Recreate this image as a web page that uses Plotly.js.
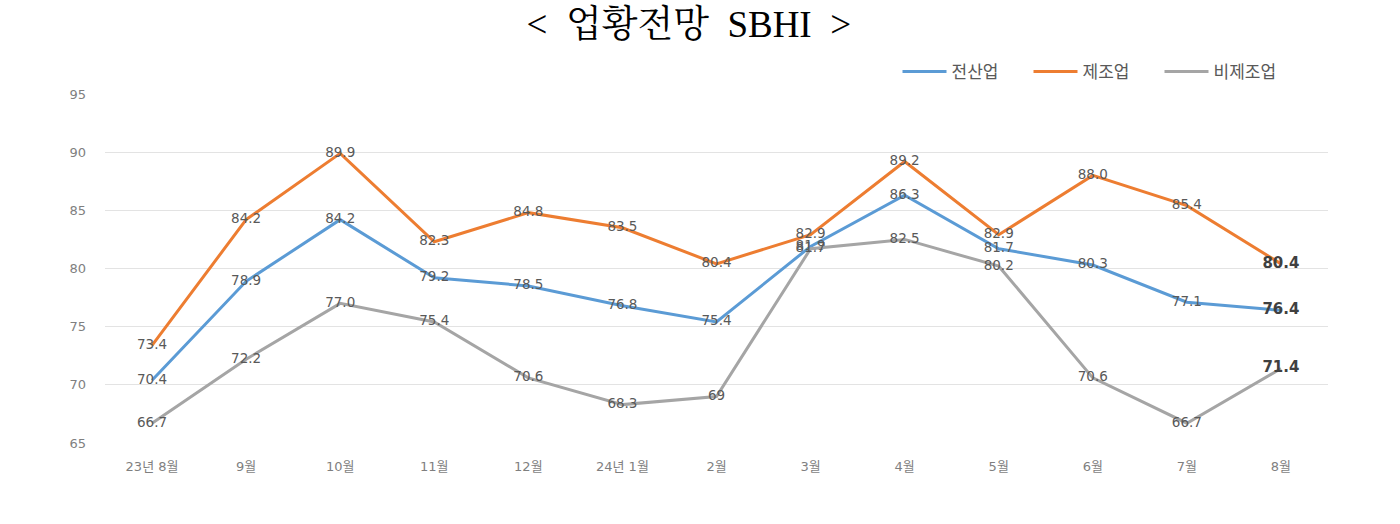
<!DOCTYPE html>
<html>
<head>
<meta charset="utf-8">
<script src="https://cdn.plot.ly/plotly-3.0.1.min.js"></script>
<style>html,body{margin:0;padding:0;background:#fff;}#chart{width:1400px;height:524px;}</style>
</head>
<body>
<div id="chart"></div>
<script>
const categories = ["23년 8월","9월","10월","11월","12월","24년 1월","2월","3월","4월","5월","6월","7월","8월"];
const allIndustry = [70.4, 78.9, 84.2, 79.2, 78.5, 76.8, 75.4, 81.9, 86.3, 81.7, 80.3, 77.1, 76.4];
const manufacturing = [73.4, 84.2, 89.9, 82.3, 84.8, 83.5, 80.4, 82.9, 89.2, 82.9, 88.0, 85.4, 80.4];
const nonManufacturing = [66.7, 72.2, 77.0, 75.4, 70.6, 68.3, 69, 81.7, 82.5, 80.2, 70.6, 66.7, 71.4];
const seriesNames = ["전산업", "제조업", "비제조업"];
const yTicks = [65, 70, 75, 80, 85, 90, 95];

function labels(vals) {
  return vals.map((v, i) => {
    const s = v === 69 ? String(v) : v.toFixed(1);
    return i === vals.length - 1 ? "<b>" + s + "</b>" : s;
  });
}
function sizes(vals) { return vals.map((v, i) => i === vals.length - 1 ? 15 : 13.5); }
function colors(vals) { return vals.map((v, i) => i === vals.length - 1 ? "#404040" : "#595959"); }

const font = "'DejaVu Sans', 'Noto Sans CJK KR', sans-serif";
const seriesColors = ["#5B9BD5", "#ED7D31", "#A5A5A5"];
const data = [allIndustry, manufacturing, nonManufacturing].map((vals, k) => ({
  type: "scatter",
  mode: "lines+text",
  x: categories,
  y: vals,
  name: seriesNames[k],
  line: {color: seriesColors[k], width: 3},
  text: labels(vals),
  textposition: "middle center",
  textfont: {family: font, size: sizes(vals), color: colors(vals)},
  cliponaxis: false,
  hoverinfo: "skip"
}));

const layout = {
  width: 1400, height: 524,
  margin: {l: 105, r: 72, t: 94, b: 81, autoexpand: false},
  paper_bgcolor: "#fff", plot_bgcolor: "#fff",
  title: {
    text: "<  업황전망  SBHI  >",
    font: {family: "'Liberation Serif', 'Noto Serif CJK KR', serif", size: 37, color: "#000"},
    x: 0.492, xanchor: "center", y: 0.955, yanchor: "middle", yref: "container"
  },
  xaxis: {
    type: "category",
    range: [-0.5, 12.5],
    showgrid: false, zeroline: false, showline: false,
    ticks: "",
    tickfont: {family: font, size: 13, color: "#7f7f7f"},
    ticklabelstandoff: 14,
    fixedrange: true
  },
  yaxis: {
    range: [65, 95],
    tickvals: yTicks,
    showgrid: true, gridcolor: "#e3e3e3", gridwidth: 1,
    zeroline: false, showline: false, ticks: "",
    tickfont: {family: font, size: 13, color: "#7f7f7f"},
    ticklabelstandoff: 18,
    fixedrange: true
  },
  showlegend: true,
  legend: {
    orientation: "h",
    x: 0.648, xanchor: "left",
    y: 1.063, yanchor: "middle",
    font: {family: "'Noto Sans CJK KR', sans-serif", size: 17, color: "#595959"},
    itemwidth: 44,
    entrywidth: 72,
    traceorder: "normal"
  }
};

Plotly.newPlot("chart", data, layout, {displayModeBar: false, staticPlot: true});
</script>
</body>
</html>
